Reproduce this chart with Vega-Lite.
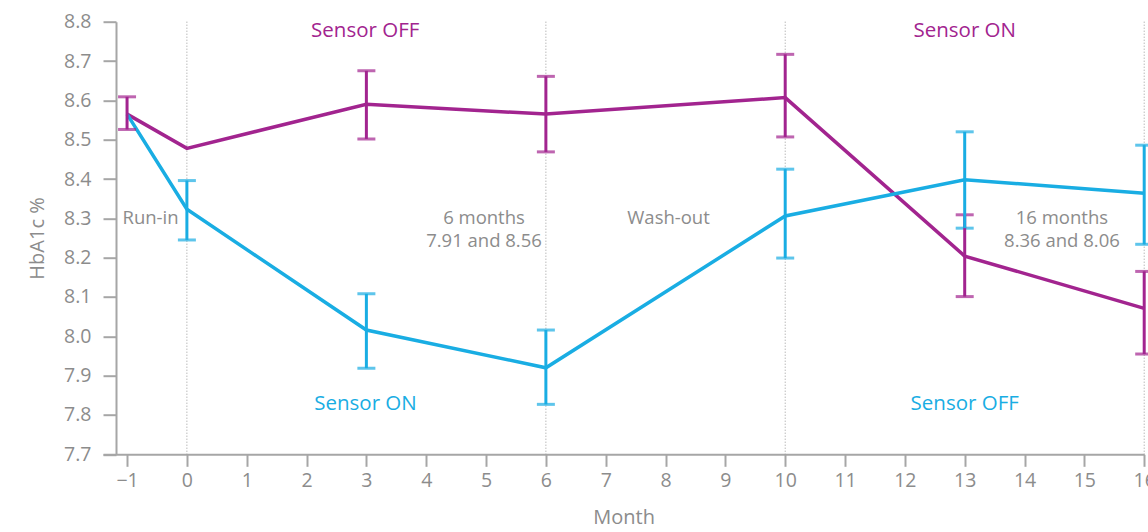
{
  "$schema": "https://vega.github.io/schema/vega-lite/v6.json",
  "autosize": "none",
  "width": 1041.2,
  "height": 432.6,
  "padding": {"left": 103, "top": 21.7, "right": 3.8, "bottom": 77.7},
  "background": "white",
  "config": {
    "font": "Open Sans",
    "view": {"stroke": null},
    "axis": {
      "grid": false,
      "domainColor": "#a6a6a6",
      "domainWidth": 2,
      "tickColor": "#a6a6a6",
      "tickWidth": 2,
      "labelColor": "#8c8c8c",
      "titleColor": "#8c8c8c",
      "labelFontSize": 19.5,
      "titleFontSize": 20,
      "titleFontWeight": "normal",
      "labelFont": "Open Sans",
      "titleFont": "Open Sans"
    }
  },
  "datasets": {
    "series": [
      {"month": -1, "value": 8.565, "lo": 8.526, "hi": 8.609, "group": "Group A"},
      {"month": 0, "value": 8.478, "lo": null, "hi": null, "group": "Group A"},
      {"month": 3, "value": 8.59, "lo": 8.502, "hi": 8.675, "group": "Group A"},
      {"month": 6, "value": 8.565, "lo": 8.469, "hi": 8.661, "group": "Group A"},
      {"month": 10, "value": 8.607, "lo": 8.507, "hi": 8.717, "group": "Group A"},
      {"month": 13, "value": 8.204, "lo": 8.101, "hi": 8.309, "group": "Group A"},
      {"month": 16, "value": 8.071, "lo": 7.955, "hi": 8.165, "group": "Group A"},
      {"month": -1, "value": 8.565, "lo": null, "hi": null, "group": "Group B"},
      {"month": 0, "value": 8.323, "lo": 8.245, "hi": 8.396, "group": "Group B"},
      {"month": 3, "value": 8.016, "lo": 7.919, "hi": 8.108, "group": "Group B"},
      {"month": 6, "value": 7.92, "lo": 7.827, "hi": 8.016, "group": "Group B"},
      {"month": 10, "value": 8.306, "lo": 8.199, "hi": 8.425, "group": "Group B"},
      {"month": 13, "value": 8.398, "lo": 8.275, "hi": 8.52, "group": "Group B"},
      {"month": 16, "value": 8.364, "lo": 8.234, "hi": 8.486, "group": "Group B"}
    ],
    "dividers": [{"month": 0}, {"month": 6}, {"month": 10}, {"month": 16}],
    "sensorLabels": [
      {"month": 2.98, "value": 8.776, "label": "Sensor OFF", "group": "Group A"},
      {"month": 13.0, "value": 8.776, "label": "Sensor ON", "group": "Group A"},
      {"month": 2.985, "value": 7.828, "label": "Sensor ON", "group": "Group B"},
      {"month": 13.0, "value": 7.828, "label": "Sensor OFF", "group": "Group B"}
    ],
    "notes": [
      {"month": -0.608, "value": 8.302, "label": "Run-in"},
      {"month": 4.966, "value": 8.302, "label": "6 months|7.91 and 8.56"},
      {"month": 8.05, "value": 8.302, "label": "Wash-out"},
      {"month": 14.625, "value": 8.302, "label": "16 months|8.36 and 8.06"}
    ]
  },
  "encoding": {
    "x": {
      "field": "month",
      "type": "quantitative",
      "scale": {"domain": [-1.402, 16], "nice": false, "zero": false},
      "axis": {
        "title": "Month",
        "values": [-1, 0, 1, 2, 3, 4, 5, 6, 7, 8, 9, 10, 11, 12, 13, 14, 15, 16],
        "tickSize": 12,
        "labelPadding": 5,
        "titlePadding": 18,
        "labelFlush": false
      }
    },
    "y": {
      "field": "value",
      "type": "quantitative",
      "scale": {"domain": [7.7, 8.8], "nice": false, "zero": false},
      "axis": {
        "title": "HbA1c %",
        "values": [7.7, 7.8, 7.9, 8.0, 8.1, 8.2, 8.3, 8.4, 8.5, 8.6, 8.7, 8.8],
        "format": ".1f",
        "offset": -13,
        "tickSize": 13,
        "labelPadding": 12,
        "titlePadding": 16
      }
    }
  },
  "layer": [
    {
      "data": {"name": "dividers"},
      "mark": {"type": "rule", "color": "#9a9a9a", "strokeWidth": 1, "strokeDash": [1, 2]},
      "encoding": {"x": {"field": "month", "type": "quantitative"}, "y": null}
    },
    {
      "data": {"name": "series"},
      "mark": {"type": "line", "strokeWidth": 3.5},
      "encoding": {
        "color": {
          "field": "group",
          "type": "nominal",
          "scale": {"domain": ["Group A", "Group B"], "range": ["#a2248f", "#19ade3"]},
          "legend": null
        }
      }
    },
    {
      "data": {"name": "series"},
      "transform": [{"filter": "isValid(datum.lo)"}],
      "mark": {"type": "errorbar", "ticks": {"size": 18, "thickness": 3}, "rule": {"strokeWidth": 3}},
      "encoding": {
        "y": {"field": "lo", "type": "quantitative"},
        "y2": {"field": "hi"},
        "color": {"field": "group", "type": "nominal", "legend": null}
      }
    },
    {
      "data": {"name": "sensorLabels"},
      "mark": {"type": "text", "fontSize": 20.5, "baseline": "middle", "align": "center", "font": "Open Sans"},
      "encoding": {
        "text": {"field": "label"},
        "color": {"field": "group", "type": "nominal", "legend": null}
      }
    },
    {
      "data": {"name": "notes"},
      "mark": {"type": "text", "fontSize": 18.5, "lineHeight": 23.5, "lineBreak": "|", "baseline": "middle", "align": "center", "color": "#8c8c8c", "font": "Open Sans"},
      "encoding": {"text": {"field": "label"}}
    }
  ]
}
